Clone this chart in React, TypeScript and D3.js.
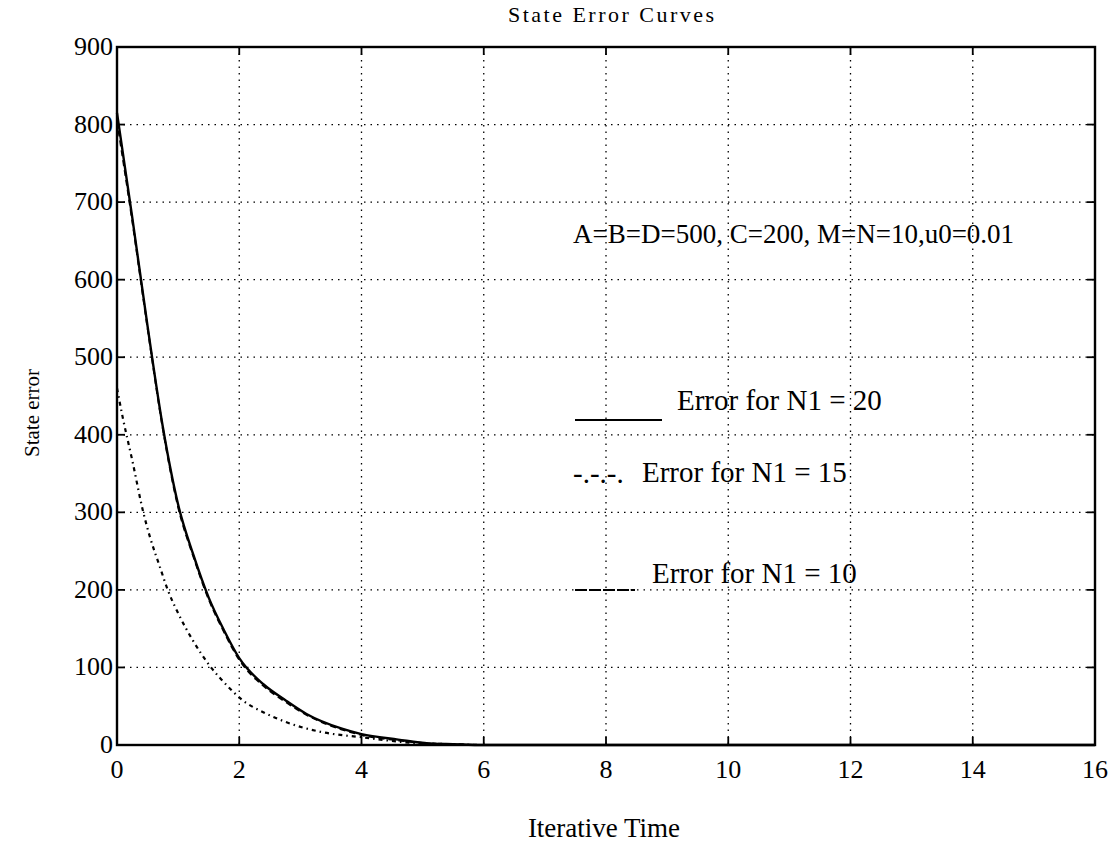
import React from "react";
import * as d3 from "d3";

const xTicks = [0, 2, 4, 6, 8, 10, 12, 14, 16];
const yTicks = [0, 100, 200, 300, 400, 500, 600, 700, 800, 900];

const timeA = [0, 0.25, 0.5, 0.75, 1.0, 1.25, 1.5, 1.75, 2.0, 2.4, 2.75, 3.1, 3.68, 4.0, 4.6, 5.1, 5.5, 6, 7, 16];
const errN20 = [815, 680, 540, 410, 310, 245, 190, 148, 112, 78, 58, 40, 21, 14, 7, 2, 1, 0, 0, 0];
const errN10 = [805, 676, 538, 408, 307, 243, 188, 146, 110, 76, 56, 39, 20, 13, 6, 2, 1, 0, 0, 0];

const timeB = [0, 0.1, 0.25, 0.43, 0.54, 0.7, 0.83, 1.0, 1.24, 1.5, 1.82, 2.05, 2.4, 2.75, 3.33, 4.0, 4.8, 5.5, 6, 16];
const errN15 = [460, 420, 367, 300, 268, 230, 200, 170, 135, 104, 75, 58, 42, 30, 17, 10, 3, 1, 0, 0];

const FONT = "'Liberation Serif', 'Times New Roman', serif";

export default function App() {
  const W = 1114, H = 844;
  const x0 = 117, x1 = 1095, yTop = 47, yBot = 745;
  const x = d3.scaleLinear().domain([0, 16]).range([x0, x1]);
  const y = d3.scaleLinear().domain([0, 900]).range([yBot, yTop]);
  const line = d3
    .line<[number, number]>()
    .x((d) => x(d[0]))
    .y((d) => y(d[1]))
    .curve(d3.curveMonotoneX);
  const zip = (t: number[], v: number[]) => t.map((ti, i) => [ti, v[i]] as [number, number]);
  const tickLen = 8;

  return (
    <svg
      width={W}
      height={H}
      style={{ position: "absolute", left: 0, top: 0, background: "#fff" }}
      fontFamily={FONT}
    >
      <rect x={0} y={0} width={W} height={H} fill="#fff" />
      {/* grid */}
      {xTicks.slice(1, -1).map((t) => (
        <line key={"gx" + t} x1={x(t)} x2={x(t)} y1={yTop} y2={yBot} stroke="#000" strokeWidth={1.3} strokeDasharray="1.5,5" />
      ))}
      {yTicks.slice(1, -1).map((t) => (
        <line key={"gy" + t} x1={x0} x2={x1} y1={y(t)} y2={y(t)} stroke="#000" strokeWidth={1.3} strokeDasharray="1.5,5" />
      ))}
      {/* curves */}
      <path d={line(zip(timeA, errN20)) || ""} fill="none" stroke="#000" strokeWidth={2.4} />
      <path d={line(zip(timeA, errN10)) || ""} fill="none" stroke="#000" strokeWidth={2} strokeDasharray="6,4" />
      <path d={line(zip(timeB, errN15)) || ""} fill="none" stroke="#000" strokeWidth={2.2} strokeDasharray="4,4,1.5,4" />
      {/* frame */}
      <rect x={x0} y={yTop} width={x1 - x0} height={yBot - yTop} fill="none" stroke="#000" strokeWidth={2.4} />
      {/* ticks */}
      {xTicks.slice(1, -1).map((t) => (
        <g key={"tx" + t}>
          <line x1={x(t)} x2={x(t)} y1={yBot} y2={yBot - tickLen} stroke="#000" strokeWidth={1.8} />
          <line x1={x(t)} x2={x(t)} y1={yTop} y2={yTop + tickLen} stroke="#000" strokeWidth={1.8} />
        </g>
      ))}
      {yTicks.slice(1, -1).map((t) => (
        <g key={"ty" + t}>
          <line x1={x0} x2={x0 + tickLen} y1={y(t)} y2={y(t)} stroke="#000" strokeWidth={1.8} />
          <line x1={x1} x2={x1 - tickLen} y1={y(t)} y2={y(t)} stroke="#000" strokeWidth={1.8} />
        </g>
      ))}
      {/* tick labels */}
      {xTicks.map((t) => (
        <text key={"lx" + t} x={x(t)} y={778} textAnchor="middle" fontSize={26}>
          {t}
        </text>
      ))}
      {yTicks.map((t) => (
        <text key={"ly" + t} x={x0 - 4} y={y(t) + 8} textAnchor="end" fontSize={26}>
          {t}
        </text>
      ))}
      {/* title and axis labels */}
      <text x={508} y={22} fontSize={22} textLength={206} lengthAdjust="spacing">
        State Error Curves
      </text>
      <text x={604} y={837} textAnchor="middle" fontSize={27}>
        Iterative Time
      </text>
      <text transform="translate(39,413) rotate(-90)" textAnchor="middle" fontSize={21}>
        State error
      </text>
      {/* annotation */}
      <text x={573} y={243} fontSize={27}>
        A=B=D=500, C=200, M=N=10,u0=0.01
      </text>
      {/* legend */}
      <line x1={575} x2={662} y1={420} y2={420} stroke="#000" strokeWidth={2.2} />
      <text x={677} y={410} fontSize={29}>
        Error for N1 = 20
      </text>
      <text x={573} y={483} fontSize={29}>
        -.-.-.
      </text>
      <text x={642} y={482} fontSize={29}>
        Error for N1 = 15
      </text>
      <line x1={575} x2={635} y1={590} y2={590} stroke="#000" strokeWidth={2.2} strokeDasharray="12,2" />
      <text x={652} y={583} fontSize={29}>
        Error for N1 = 10
      </text>
    </svg>
  );
}
